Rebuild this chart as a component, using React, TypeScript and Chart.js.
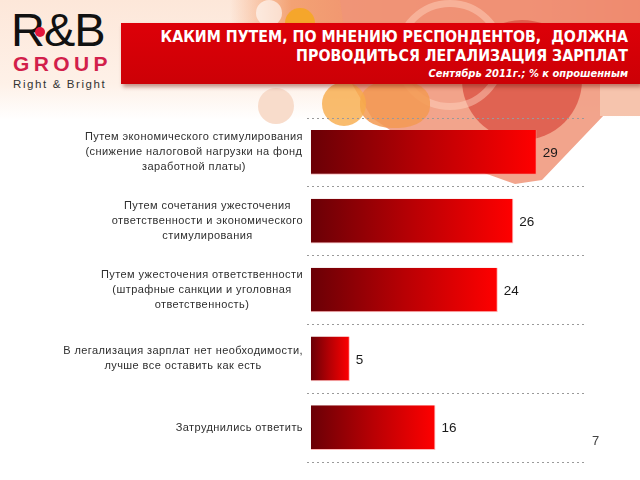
import React, { useEffect, useRef } from "react";
import { Chart, registerables } from "chart.js";

Chart.register(...registerables);

const categories: string[][] = [
  ["Путем экономического стимулирования", "(снижение налоговой нагрузки на фонд", "заработной платы)"],
  ["Путем сочетания ужесточения", "ответственности и экономического", "стимулирования"],
  ["Путем ужесточения ответственности", "(штрафные санкции и уголовная", "ответственность)"],
  ["В легализация зарплат нет необходимости,", "лучше все оставить как есть"],
  ["Затруднились ответить"],
];
const values: number[] = [29, 26, 24, 5, 16];

const titleLines = ["КАКИМ ПУТЕМ, ПО МНЕНИЮ РЕСПОНДЕНТОВ,  ДОЛЖНА", "ПРОВОДИТЬСЯ ЛЕГАЛИЗАЦИЯ ЗАРПЛАТ"];
const subtitle = "Сентябрь 2011г.; % к опрошенным";
const pageNumber = "7";

const labelFont = "11px 'Liberation Sans', Arial, sans-serif";
const valueFont = "13.5px 'Liberation Sans', Arial, sans-serif";

const categoryLabelsPlugin = {
  id: "categoryLabels",
  afterDraw(chart: any) {
    const ctx = chart.ctx as CanvasRenderingContext2D;
    const y = chart.scales.y;
    const right = chart.chartArea.left - 4;
    ctx.save();
    ctx.font = labelFont;
    (ctx as any).letterSpacing = "0.42px";
    ctx.fillStyle = "#2e2e2e";
    ctx.textAlign = "center";
    ctx.textBaseline = "middle";
    categories.forEach((lines, i) => {
      const cy = y.getPixelForValue(i);
      const w = Math.max(...lines.map((l) => ctx.measureText(l).width));
      const cx = right - w / 2;
      lines.forEach((l, j) => {
        ctx.fillText(l, cx, cy + (j - (lines.length - 1) / 2) * 15);
      });
    });
    ctx.restore();
  },
};

const valueLabelsPlugin = {
  id: "valueLabels",
  afterDatasetsDraw(chart: any) {
    const ctx = chart.ctx as CanvasRenderingContext2D;
    const meta = chart.getDatasetMeta(0);
    ctx.save();
    ctx.font = valueFont;
    ctx.fillStyle = "#1a1a1a";
    ctx.textAlign = "left";
    ctx.textBaseline = "middle";
    meta.data.forEach((el: any, i: number) => {
      ctx.fillText(String(values[i]), el.x + 6, el.y + 1);
    });
    ctx.restore();
  },
};

function ChartCanvas() {
  const ref = useRef<HTMLCanvasElement | null>(null);
  useEffect(() => {
    if (!ref.current) return;
    const chart = new Chart(ref.current, {
      type: "bar",
      data: {
        labels: categories.map((c) => c.join(" ")),
        datasets: [
          {
            data: values,
            backgroundColor: (c: any) => {
              const ch = c.chart;
              if (!ch.chartArea || c.type !== "data") return "#c00000";
              const xs = ch.scales.x;
              const x0 = xs.getPixelForValue(0);
              const x1 = xs.getPixelForValue(c.raw);
              const g = ch.ctx.createLinearGradient(x0, 0, x1, 0);
              g.addColorStop(0, "#6a0006");
              g.addColorStop(0.5, "#b80004");
              g.addColorStop(1, "#ff0000");
              return g;
            },
            borderColor: "rgba(255,140,140,0.6)",
            borderWidth: { top: 0, left: 0, right: 1, bottom: 1 },
            borderSkipped: false,
            barPercentage: 0.65,
            categoryPercentage: 1,
          },
        ],
      },
      options: {
        indexAxis: "y",
        animation: false,
        responsive: false,
        maintainAspectRatio: false,
        layout: { padding: { left: 307, right: 55, top: 118, bottom: 18 } },
        plugins: { legend: { display: false }, tooltip: { enabled: false }, title: { display: false } },
        scales: {
          x: { display: false, min: -0.5, max: 35.2 },
          y: {
            afterFit: (s: any) => {
              s.width = 0;
            },
            ticks: { display: false },
            grid: { color: "#9a9a9a", lineWidth: 1, drawTicks: false, offset: true },
            border: { display: false, dash: [2, 3] },
          },
        },
      },
      plugins: [categoryLabelsPlugin, valueLabelsPlugin],
    } as any);
    return () => chart.destroy();
  }, []);
  return <canvas ref={ref} width={640} height={480} style={{ position: "absolute", left: 0, top: 0, zIndex: 5 }} />;
}

const abs = (s: React.CSSProperties): React.CSSProperties => ({ position: "absolute", ...s });

export default function App() {
  useEffect(() => {
    document.body.style.margin = "0";
  }, []);
  const condensed = "'DejaVu Sans Condensed', 'DejaVu Sans', sans-serif";
  return (
    <div style={{ position: "relative", width: 640, height: 480, overflow: "hidden", background: "#ffffff", fontFamily: "'Liberation Sans', Arial, sans-serif" }}>
      {/* background decoration */}
      <div style={abs({ left: 0, top: 0, width: 640, height: 120, background: "linear-gradient(180deg, #fde7d9 0%, #fef1e8 70%, #ffffff 100%)" })} />
      <div style={abs({ left: 230, top: 0, width: 410, height: 30, background: "linear-gradient(90deg, rgba(245,170,120,0) 0%, #f3a274 15%, #f08a6c 45%, #ee7c64 75%, #e6553e 100%)" })} />
      <div style={abs({ left: 0, top: 0, width: 640, height: 200, background: "#f09478", opacity: 0.85, clipPath: "polygon(340px 0, 640px 0, 640px 84px, 610px 90px, 605px 114px, 542px 180px, 515px 184px, 420px 150px, 372px 118px, 352px 84px)" })} />
      <div style={abs({ left: 600, top: 84, width: 40, height: 32, background: "#f6c4ad" })} />
      <div style={abs({ left: 462, top: 20, width: 120, height: 120, borderRadius: "50%", background: "#d9473a", opacity: 0.7 })} />
      <div style={abs({ left: 395, top: 0, width: 96, height: 96, borderRadius: "50%", border: "7px solid rgba(255,215,195,0.45)" })} />
      <div style={abs({ left: 360, top: 80, width: 70, height: 48, borderRadius: "45%", background: "#f39a52", opacity: 0.85 })} />
      <div style={abs({ left: 322, top: 82, width: 44, height: 44, borderRadius: "50%", background: "#f7ab4a", opacity: 0.8 })} />
      <div style={abs({ left: 285, top: 8, width: 30, height: 30, borderRadius: "50%", background: "#f5a623", opacity: 0.9 })} />
      <div style={abs({ left: 258, top: 88, width: 36, height: 36, borderRadius: "50%", background: "#f8dccb" })} />
      <div style={abs({ left: 256, top: 0, width: 26, height: 26, borderRadius: "50%", background: "#ffffff", opacity: 0.6 })} />

      {/* logo */}
      <div style={abs({ left: 11, top: 5, fontSize: 47, lineHeight: "50px", color: "#111", letterSpacing: -1, fontFamily: "'Liberation Sans', Arial, sans-serif" })}>R&amp;B</div>
      <div style={abs({ left: 35, top: 27, width: 10, height: 10, borderRadius: "50%", background: "#e3173c" })} />
      <div style={abs({ left: 13, top: 52, fontSize: 21, fontWeight: "bold", letterSpacing: 4.4, color: "#d21f4b", lineHeight: "24px" })}>GROUP</div>
      <div style={abs({ left: 13, top: 77, fontSize: 11.5, letterSpacing: 1.6, color: "#333", lineHeight: "14px" })}>Right &amp; Bright</div>

      {/* banner */}
      <div style={abs({ left: 121, top: 23, width: 519, height: 61, background: "linear-gradient(180deg, #dd0008 0%, #cc0006 100%)", boxShadow: "2px 3px 4px rgba(120,30,20,0.45)" })} />
      <div style={abs({ right: 12, top: 27, textAlign: "right", color: "#ffffff", fontFamily: condensed, fontWeight: "bold", fontSize: 15.8, lineHeight: "19px", whiteSpace: "pre" })}>
        {titleLines.join("\n")}
      </div>
      <div style={abs({ right: 12, top: 67, textAlign: "right", color: "#ffffff", fontFamily: condensed, fontWeight: "bold", fontStyle: "italic", fontSize: 11, lineHeight: "14px", whiteSpace: "pre" })}>
        {subtitle}
      </div>

      <ChartCanvas />

      <div style={abs({ left: 592, top: 433, fontSize: 13, color: "#444", zIndex: 6 })}>{pageNumber}</div>
    </div>
  );
}
